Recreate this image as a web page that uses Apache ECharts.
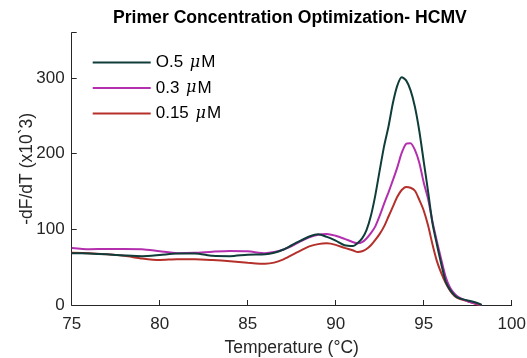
<!DOCTYPE html>
<html>
<head>
<meta charset="utf-8">
<script src="https://cdn.jsdelivr.net/npm/echarts@6/dist/echarts.min.js"></script>
<style>
  html, body { margin: 0; padding: 0; background: #fff; }
  #chart { width: 527px; height: 358px; }
</style>
</head>
<body>
<div id="chart"></div>
<script>
// Melt-curve derivative, sampled on a shared temperature grid (°C)
const temperature = [
  75, 76, 77, 78, 79, 80, 81, 82, 83, 84, 85, 86, 86.5, 87, 87.5, 88, 88.5, 89, 89.5, 90, 90.5,
  91, 91.25, 91.5, 91.75, 92, 92.25, 92.5, 92.75, 93, 93.25, 93.5, 93.75, 94, 94.25, 94.5, 94.75,
  95, 95.25, 95.5, 95.75, 96, 96.25, 96.5, 96.75, 97, 97.5, 98, 98.3
];

// -dF/dT (x10^3) for each primer concentration
const conc050 = [
  68.5, 68, 67, 65.5, 64.5, 66, 68, 68, 65, 64.5, 66.5, 67, 69, 73, 79, 85, 90.5, 93.5, 90, 85, 79,
  78, 82, 88, 99, 118, 145, 178, 210, 236, 267, 290, 301, 297, 284, 262, 230,
  190, 150, 108, 80, 54, 31, 20, 13, 9, 6, 3, 0
];
const conc030 = [
  75.5, 73.8, 74, 74, 73.8, 71, 68.5, 69, 70.5, 71.5, 71, 68.5, 70, 73, 78, 84, 89.5, 93, 94, 91.5, 87.5,
  83, 81.5, 83, 88, 95, 104, 118, 134, 149, 165, 182, 201, 213, 214, 205, 188,
  162, 140, 110, 84, 60, 37, 23, 15, 10, 5, 1.5, 0
];
const conc015 = [
  69, 68.5, 67, 65, 61.5, 59.5, 60.5, 60.5, 59.5, 58, 56, 54.5, 56, 60, 66, 72, 77.5, 80.5, 81.5, 79.5, 75.5,
  72, 70, 71, 74, 79, 86, 94, 104, 117, 130, 143, 152, 156, 155, 151, 139,
  125, 105, 80, 58, 42, 29, 19, 12, 8.5, 5, 1, 0
];

const seriesNames = ['O.5 μM', '0.3 μM', '0.15 μM'];
const seriesValues = [conc050, conc030, conc015];
const seriesColors = ['#0f3d39', '#b32fae', '#b5302b'];

const xTicks = { min: 75, max: 100, interval: 5 };
const yTicks = { min: 0, max: 360, interval: 100 };

const axisColor = '#262626';
const fontFamily = '"Liberation Sans", Arial, Helvetica, sans-serif';

function pairs(values) {
  return temperature.map((t, i) => [t, values[i]]);
}

const chart = echarts.init(document.getElementById('chart'), null, { renderer: 'canvas' });

chart.setOption({
  animation: false,
  backgroundColor: '#ffffff',
  title: {
    text: 'Primer Concentration Optimization- HCMV',
    left: 113,
    top: 9,
    padding: 0,
    textStyle: { fontFamily, fontSize: 17.6, fontWeight: 'bold', color: '#000' }
  },
  grid: {
    left: 71.7, right: 15.3, top: 32.7, bottom: 53,
    containLabel: false,
    outerBoundsMode: 'none'
  },
  legend: {
    orient: 'vertical',
    left: 92.7,
    top: 54,
    padding: 0,
    icon: 'rect',
    itemWidth: 58,
    itemHeight: 2,
    itemGap: 8.5,
    textStyle: {
      fontFamily, fontSize: 17, color: '#000', lineHeight: 17,
      rich: {
        n: { fontFamily, fontSize: 17, color: '#000' },
        mu: { fontFamily: '"DejaVu Serif", serif', fontSize: 16, fontStyle: 'italic', color: '#000', padding: [0, 1, 0, 2] }
      }
    },
    formatter: function (name) {
      const parts = name.split('μ');
      return '{n|' + parts[0] + '}{mu|μ}{n|' + parts[1] + '}';
    },
    data: seriesNames
  },
  xAxis: {
    type: 'value',
    min: xTicks.min,
    max: xTicks.max,
    interval: xTicks.interval,
    name: 'Temperature (°C)',
    nameLocation: 'middle',
    nameGap: 34,
    nameMoveOverlap: false,
    nameTextStyle: { fontFamily, fontSize: 17.5, color: axisColor },
    axisLine: { show: true, onZero: false, lineStyle: { color: axisColor, width: 1 } },
    axisTick: { show: true, inside: true, length: 5, lineStyle: { color: axisColor } },
    axisLabel: { fontFamily, fontSize: 17, color: axisColor, margin: 11 },
    splitLine: { show: false }
  },
  yAxis: {
    type: 'value',
    min: yTicks.min,
    max: yTicks.max,
    interval: yTicks.interval,
    name: '-dF/dT (x10`3)',
    nameLocation: 'middle',
    nameGap: 36,
    nameMoveOverlap: false,
    nameRotate: 90,
    nameTextStyle: { fontFamily, fontSize: 17.5, color: axisColor },
    axisLine: { show: true, lineStyle: { color: axisColor, width: 1 } },
    axisTick: { show: true, inside: true, length: 5, lineStyle: { color: axisColor } },
    axisLabel: {
      fontFamily, fontSize: 17, color: axisColor, margin: 7,
      formatter: function (v) { return v <= 300 ? String(v) : ''; }
    },
    splitLine: { show: false }
  },
  series: seriesNames.map((name, i) => ({
    name,
    type: 'line',
    data: pairs(seriesValues[i]),
    symbol: 'none',
    smooth: 0.25,
    color: seriesColors[i],
    lineStyle: { color: seriesColors[i], width: 2 },
    z: 3 - i
  }))
});
</script>
</body>
</html>
